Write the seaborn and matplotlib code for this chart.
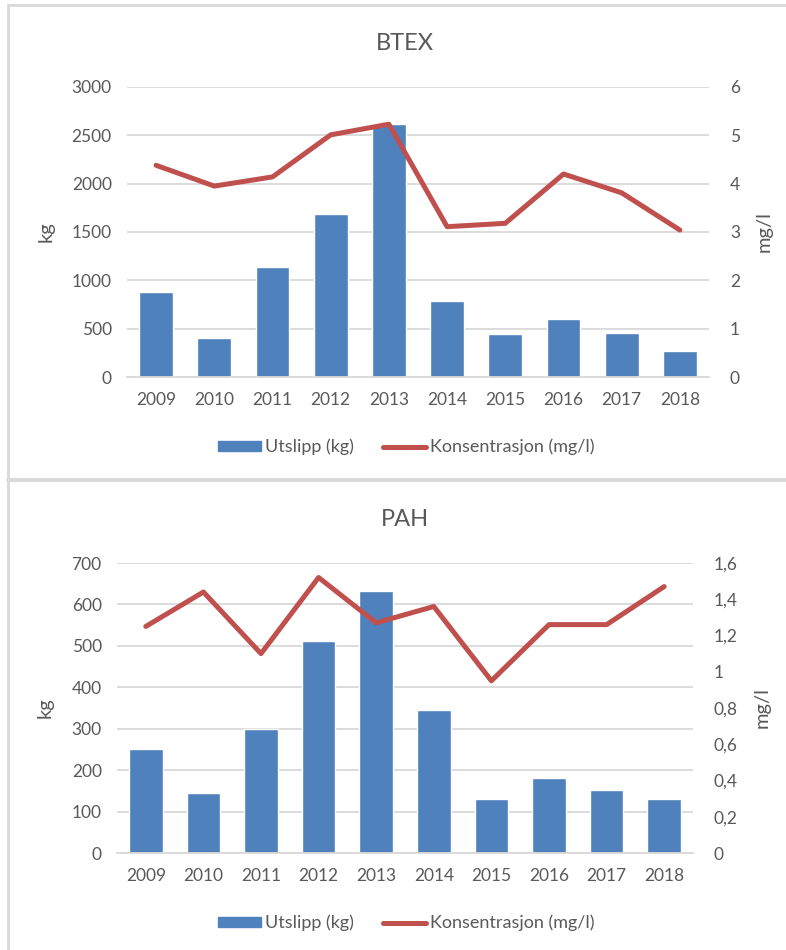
import numpy as np
import pandas as pd
import matplotlib
matplotlib.use("Agg")
import matplotlib.pyplot as plt
import seaborn as sns
from matplotlib.lines import Line2D
from matplotlib.patches import Patch
from matplotlib.ticker import FuncFormatter

# data
years = ['2009', '2010', '2011', '2012', '2013', '2014', '2015', '2016', '2017', '2018']
btex_kg = [880, 400, 1136, 1684, 2622, 790, 442, 604, 452, 268]
btex_mgl = [4.38, 3.95, 4.14, 5.01, 5.23, 3.11, 3.18, 4.20, 3.81, 3.04]
pah_kg = [250, 146, 300, 511, 633, 346, 131, 181, 152, 131]
pah_mgl = [1.25, 1.44, 1.10, 1.52, 1.27, 1.36, 0.95, 1.26, 1.26, 1.47]

BLUE = '#4F81BD'
RED = '#C0504D'
GRID = '#D9D9D9'
TXT = '#595959'

sns.set_style('white')
plt.rcParams['font.family'] = ['Lato', 'DejaVu Sans']
plt.rcParams['text.color'] = TXT
plt.rcParams['axes.labelcolor'] = TXT
plt.rcParams['xtick.color'] = TXT
plt.rcParams['ytick.color'] = TXT

W, H = 786, 950
fig = plt.figure(figsize=(W / 100, H / 100), dpi=100)


def px_axes(left, top, right, bottom):
    return fig.add_axes([left / W, 1 - bottom / H, (right - left) / W, (bottom - top) / H])


def comma(v, pos):
    return f"{v:g}".replace('.', ',')


def draw_panel(ax, title, kg, mgl, kg_max, kg_step, mgl_max, mgl_step, title_y, legend_y, kg_x, mgl_x):
    df = pd.DataFrame({'year': years, 'kg': kg, 'mgl': mgl, 'pos': np.arange(len(years))})

    sns.barplot(data=df, x='year', y='kg', color=BLUE, width=0.58, saturation=1, ax=ax)
    ax.set_xlim(-0.5, len(years) - 0.5)
    ax.set_ylim(0, kg_max)
    ax.set_yticks(np.arange(0, kg_max + 1, kg_step))
    ax.yaxis.grid(True, color=GRID, linewidth=1.3)
    ax.set_axisbelow(True)
    for s in ['top', 'right', 'left']:
        ax.spines[s].set_visible(False)
    ax.spines['bottom'].set_color(GRID)
    ax.spines['bottom'].set_linewidth(1.3)
    ax.tick_params(axis='y', length=0, pad=11, labelsize=12.5)
    ax.tick_params(axis='x', length=0, pad=11, labelsize=12.5)
    ax.set_xlabel('')
    ax.set_ylabel('kg', fontsize=14.5)
    ax.yaxis.set_label_coords(kg_x, 0.5)

    ax2 = ax.twinx()
    sns.lineplot(data=df, x='pos', y='mgl', color=RED, linewidth=3.6, ax=ax2)
    for l in ax2.lines:
        l.set_solid_capstyle('round')
        l.set_solid_joinstyle('round')
    ax2.set_ylim(0, mgl_max)
    ax2.set_yticks(np.arange(0, mgl_max + mgl_step / 2, mgl_step))
    ax2.yaxis.set_major_formatter(FuncFormatter(comma))
    for s in ax2.spines.values():
        s.set_visible(False)
    ax2.tick_params(axis='y', length=0, pad=15, labelsize=12.5)
    ax2.set_ylabel('mg/l', fontsize=14.5)
    ax2.yaxis.set_label_coords(mgl_x, 0.5)
    ax2.set_xlim(-0.5, len(years) - 0.5)

    fig.text(405 / W, 1 - title_y / H, title, ha='center', va='center', fontsize=17)

    handles = [Patch(facecolor=BLUE, edgecolor=BLUE),
               Line2D([0], [0], color=RED, linewidth=3.6, solid_capstyle='round')]
    fig.legend(handles, ['Utslipp (kg)', 'Konsentrasjon (mg/l)'], loc='center',
               bbox_to_anchor=(406 / W, 1 - legend_y / H), ncol=2, frameon=False,
               fontsize=13, handlelength=2.4, handleheight=0.5, handletextpad=0.2,
               columnspacing=1.6)


ax_top = px_axes(127, 87, 709, 377)
draw_panel(ax_top, 'BTEX', btex_kg, btex_mgl, 3000, 500, 6, 1, 44, 447, -0.125, 1.08)

ax_bot = px_axes(117, 563, 693, 853)
draw_panel(ax_bot, 'PAH', pah_kg, pah_mgl, 700, 100, 1.6, 0.2, 519, 923, -0.11, 1.105)

# panel borders
def px_line(x0, y0, x1, y1, lw=2.0):
    fig.add_artist(Line2D([x0 / W, x1 / W], [1 - y0 / H, 1 - y1 / H],
                          color=GRID, linewidth=lw, transform=fig.transFigure))

px_line(8, 5, W, 5)
px_line(8, 5, 8, 478)
px_line(8, 479.5, W, 479.5, lw=3.0)
px_line(8, 481, 8, H)

fig.savefig('out.png', dpi=100)
